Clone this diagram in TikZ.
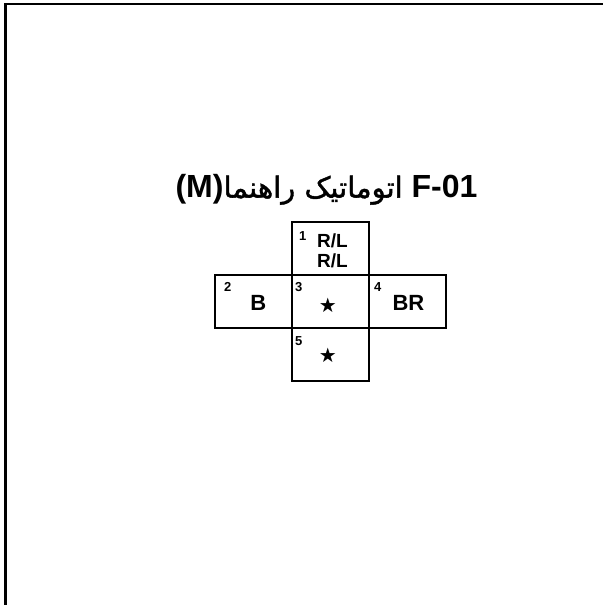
\documentclass[tikz,border=0pt]{standalone}
\usepackage{fontspec}
\setmainfont{Liberation Sans}
\newfontfamily\arabicfont[Script=Arabic,FakeBold=1.5]{DejaVu Sans}
\newfontfamily\symfont{DejaVu Sans}
\TeXXeTstate=1
\usetikzlibrary{positioning,calc}
\tikzstyle{cell} = [draw, line width=1.8pt, minimum width=77pt, minimum height=53pt, inner sep=0pt, outer sep=0pt]
\tikzstyle{num} = [anchor=north west, inner sep=0pt, font=\fontsize{13}{13}\selectfont\bfseries]
\tikzstyle{lbl} = [anchor=base, inner sep=0pt, font=\fontsize{22}{22}\selectfont\bfseries]
\tikzstyle{star} = [inner sep=0pt, font=\symfont\fontsize{20}{20}\selectfont]

\begin{document}
\begin{tikzpicture}[x=1pt, y=-1pt]
    \useasboundingbox (0,0) rectangle (603,605);
    \draw[line width=2.5pt] (5.5,605) -- (5.5,4) -- (603,4);
    \node[anchor=base, inner sep=0pt, font=\fontsize{32}{34}\selectfont\bfseries] (title) at (326.5,197.7)
        {(M){\arabicfont\mdseries\fontsize{29}{34}\selectfont\beginR اتوماتیک راهنما\endR} F-01};
    \node[cell] (c3) at (330.4,301.5) {};
    \node[cell, above=0pt of c3] (c1) {};
    \node[cell, left=0pt of c3] (c2) {};
    \node[cell, right=0pt of c3] (c4) {};
    \node[cell, below=0pt of c3] (c5) {};
    \node[num] (n1) at ([shift={(7,9)}]c1.north west) {1};
    \node[num] (n2) at ([shift={(9,7)}]c2.north west) {2};
    \node[num] (n3) at ([shift={(3,7)}]c3.north west) {3};
    \node[num] (n4) at ([shift={(5,7)}]c4.north west) {4};
    \node[num] (n5) at ([shift={(3,8)}]c5.north west) {5};
    \node[lbl, font=\fontsize{19}{19}\selectfont\bfseries] (rl1) at ([shift={(2,-1)}]c1.center) {R/L};
    \node[lbl, font=\fontsize{19}{19}\selectfont\bfseries] (rl2) at ([shift={(2,19)}]c1.center) {R/L};
    \node[lbl] (b) at ([shift={(5,8.5)}]c2.center) {B};
    \node[lbl] (br) at ([shift={(1,8.5)}]c4.center) {BR};
    \node[star] (s3) at ([shift={(-2.5,4)}]c3.center) {★};
    \node[star] (s5) at ([shift={(-2.5,0.5)}]c5.center) {★};
\end{tikzpicture}
\end{document}
